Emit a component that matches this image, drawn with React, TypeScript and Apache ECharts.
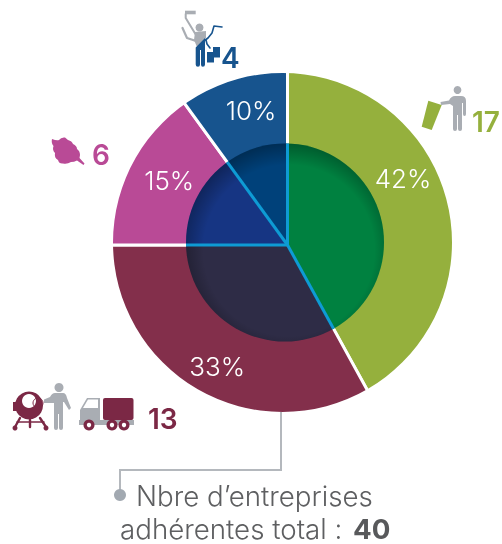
import React, { useEffect, useRef } from "react";
import * as echarts from "echarts";

const categories = ["Collecte", "BTP / Transport", "Espaces verts", "Second oeuvre"];
const counts = [17, 13, 6, 4];
const percents = [42, 33, 15, 10];
const outerColors = ["#95B03D", "#832F4B", "#B94A96", "#17548E"];
const innerColors = ["#008140", "#2E2C46", "#163583", "#00417A"];
const totalLine1 = "Nbre d’entreprises";
const totalLine2 = "adhérentes total : ";
const totalValue = "40";

const FONT = "Inter, 'Noto Sans', sans-serif";
const PX = 287.5, PY = 245; // point where the slices meet
const CX = 282.5, CY = 242.5, R = 169.5; // outer circle
const ICX = 285, ICY = 242.5, IR = 99; // inner circle
const GREY = "#A9ADB3";
const WINE = "#7B2845";

const shapes: Record<string, string> = {
  personBin: "M440.5 102 L449 100.5 Q451 96 455 96 L461 96 Q466 96 466 101 L466 114 Q466 116 464.5 116 Q463 116 463 114 L463 103 L462 103 L462 129 Q462 131 460 131 Q458 131 458 129 L458 115 L457 115 L457 129 Q457 131 455 131 Q453 131 453 129 L453 106 L450 104 L441 105 Z",
  leaf: "M52 139 Q57 141 59 140 Q61 137 65 137.5 L68 140 Q72 141 73 144 Q77 146 77 149 Q80 151 80 155 L79.5 158 L84.5 163.5 L83.5 165 L77 160.5 Q74 162 71 162 Q67 164.5 63 163.5 Q59 164 58 160 Q54 158 55 153 Q52 150 53.5 146 Q51 143 52 139 Z",
  painterTorso: "M195 32 L206 31 L206 38 L197 47 L194 40 Z",
  painterLegs: "M195.7 47.5 L205 38 L205 64.5 Q205 66.7 202.8 66.7 Q201 66.7 201 64.5 L201 50 L200 50 L200 64.5 Q200 66.7 198 66.7 Q195.7 66.7 195.7 64.5 Z",
  personMixer: "M44 399.5 L50 397 Q52 393 55 393 L63 393 Q66 393 67 398 L71 408 L69 410 L64 402 L63 402 L63 428 Q63 430 61 430 Q59 430 59 428 L59 414 L58 414 L58 428 Q58 430 56 430 Q54 430 54 428 L54 403 L44 403 Z",
  cab: "M80 420 L80 410 L87 398 L100 398 L100 420 Z",
  chassis: "M79 420 L134 420 L134 425 L79 425 Z",
};
Object.entries(shapes).forEach(([k, d]) =>
  echarts.graphic.registerShape(k, echarts.graphic.extendPath(d, {}) as any)
);

export default function App() {
  const ref = useRef<HTMLDivElement>(null);
  useEffect(() => {
    const chart = echarts.init(ref.current!, undefined, { renderer: "svg" });
    const total = percents.reduce((a, b) => a + b, 0);
    let acc = 0;
    const rows = percents.map((v) => {
      const r = [v, acc];
      acc += v;
      return r;
    });
    const num = (text: string, x: number, y: number, fill: string) => ({
      type: "text", z: 20, x, y,
      style: { text, fill, font: `600 28px ${FONT}`, textVerticalAlign: "middle" },
    });
    const deco = (type: string, fill: string) => ({ type, z: 20, x: 0, y: 0, style: { fill } });
    const circ = (cx: number, cy: number, r: number, fill: string) => ({ type: "circle", z: 21, shape: { cx, cy, r }, style: { fill } });
    const stroke = (points: number[][], color: string, w: number) => ({
      type: "polyline", z: 20, shape: { points },
      style: { stroke: color, lineWidth: w, fill: "none", lineCap: "round", lineJoin: "round" },
    });
    const box = (x: number, y: number, width: number, height: number, fill: string) => ({
      type: "rect", z: 21, shape: { x, y, width, height }, style: { fill },
    });
    chart.setOption({
      animation: false,
      series: [
        {
          type: "pie",
          z: 1,
          center: [PX, PY],
          radius: [92, 190],
          startAngle: 90,
          clockwise: true,
          silent: true,
          data: categories.map((name, i) => ({ name, value: percents[i], itemStyle: { color: outerColors[i] } })),
          itemStyle: { borderColor: "#fff", borderWidth: 3 },
          label: {
            show: true,
            position: "inside",
            color: "#fff",
            fontFamily: FONT,
            fontWeight: 300,
            fontSize: 26,
            formatter: "{c}%",
          },
          labelLine: { show: false },
          labelLayout: (p: any) => [{ dx: -24, dy: -31 }, { dx: 3, dy: -2 }, { dx: 10, dy: 1 }, { dx: 8, dy: 2 }][p.dataIndex],
        },
        {
          type: "custom",
          z: 5,
          coordinateSystem: "none",
          silent: true,
          data: rows,
          renderItem: (params: any, api: any) => {
            const a0 = (api.value(1) / total) * Math.PI * 2;
            const a1 = ((api.value(1) + api.value(0)) / total) * Math.PI * 2;
            const clip = { type: "circle", shape: { cx: ICX, cy: ICY, r: IR } };
            return {
              type: "sector",
              shape: { cx: PX, cy: PY, r0: 0, r: 115, startAngle: a0 - Math.PI / 2, endAngle: a1 - Math.PI / 2, clockwise: true },
              style: { fill: innerColors[params.dataIndex] },
              clipPath: clip,
            };
          },
        },
      ],
      graphic: [
        { type: "ring", z: 3, shape: { cx: CX, cy: CY, r0: R, r: 205 }, style: { fill: "#fff" } },
        {
          type: "circle", z: 10, shape: { cx: ICX, cy: ICY, r: IR },
          style: {
            fill: {
              type: "radial", x: 0.52, y: 0.54, r: 0.54,
              colorStops: [
                { offset: 0, color: "rgba(0,0,0,0)" },
                { offset: 0.8, color: "rgba(0,0,0,0)" },
                { offset: 1, color: "rgba(0,0,0,0.3)" },
              ],
            },
          },
        },
        ...rows.map((r) => {
          const a = (r[1] / total) * Math.PI * 2;
          const dx = Math.sin(a), dy = -Math.cos(a);
          const fx = PX - ICX, fy = PY - ICY;
          const b = fx * dx + fy * dy;
          const t = -b + Math.sqrt(b * b - (fx * fx + fy * fy - IR * IR));
          return {
            type: "line", z: 12,
            shape: { x1: PX, y1: PY, x2: PX + dx * t, y2: PY + dy * t },
            style: { stroke: "#0E9BD4", lineWidth: 3 },
          };
        }),
        num(String(counts[0]), 472, 122, outerColors[0]),
        num(String(counts[1]), 148, 419, WINE),
        num(String(counts[2]), 92, 155, outerColors[2]),
        num(String(counts[3]), 221, 58, outerColors[3]),
        // green bin and person
        { type: "polygon", z: 20, shape: { points: [[428.3, 100.7], [441.7, 105], [431.7, 130], [421.7, 126.7]] }, style: { fill: outerColors[0] } },
        circ(457.5, 90, 3.9, GREY),
        deco("personBin", GREY),
        // leaf
        deco("leaf", outerColors[2]),
        // painter
        circ(199.5, 27.5, 4, GREY),
        box(185, 10.7, 10.7, 3.6, GREY),
        stroke([[185.7, 14], [185.7, 18], [196, 35]], GREY, 2),
        stroke([[182.5, 28], [187, 38], [196, 41]], GREY, 2.2),
        deco("painterTorso", GREY),
        deco("painterLegs", outerColors[3]),
        stroke([[204, 41], [208, 38], [212, 33], [214, 26], [222, 27]], outerColors[3], 1.6),
        stroke([[206, 40], [207, 44], [210, 48]], outerColors[3], 1.6),
        box(207, 52, 7, 10.5, outerColors[3]),
        box(213, 47, 7, 10.5, outerColors[3]),
        // mixer
        stroke([[20, 418], [15, 427]], WINE, 2.4),
        stroke([[40, 418], [46, 427]], WINE, 2.4),
        stroke([[30, 420], [30, 427]], WINE, 2.4),
        stroke([[17, 422], [44, 422]], WINE, 1.5),
        circ(15, 428, 2.5, WINE),
        circ(46, 428, 2.5, WINE),
        circ(29, 405.5, 14, WINE),
        circ(29, 401, 7, "#fff"),
        box(13, 402, 5, 9, WINE),
        { type: "circle", z: 21, shape: { cx: 38, cy: 403, r: 5 }, style: { fill: "none", stroke: WINE, lineWidth: 1 } },
        circ(59, 387.5, 4.5, GREY),
        deco("personMixer", GREY),
        // truck
        deco("cab", GREY),
        { type: "polygon", z: 21, shape: { points: [[83, 408], [88, 399.5], [98, 399.5], [98, 408]] }, style: { fill: "#fff" } },
        { type: "rect", z: 21, shape: { x: 103, y: 398, width: 30.5, height: 22, r: 2 }, style: { fill: WINE } },
        deco("chassis", GREY),
        circ(89, 425, 5.5, WINE), circ(89, 425, 2.2, "#fff"),
        circ(112, 425, 5.5, WINE), circ(112, 425, 2.2, "#fff"),
        circ(124, 425, 5.5, WINE), circ(124, 425, 2.2, "#fff"),
        // total
        { type: "polyline", z: 20, shape: { points: [[281, 412], [281, 470], [120, 470], [120, 495]] }, style: { stroke: "#B4B8BD", lineWidth: 2, fill: "none" } },
        { type: "circle", z: 21, shape: { cx: 120, cy: 495, r: 6 }, style: { fill: "#A2A9B1" } },
        { type: "text", z: 20, x: 136, y: 496, style: { text: totalLine1, fill: "#5E5F61", font: `300 27.7px ${FONT}`, textVerticalAlign: "middle" } },
        { type: "text", z: 20, x: 120, y: 529, style: { text: totalLine2, fill: "#5E5F61", font: `300 27.7px ${FONT}`, textVerticalAlign: "middle" } },
        { type: "text", z: 20, x: 353, y: 529, style: { text: totalValue, fill: "#58595B", font: `700 27.7px ${FONT}`, textVerticalAlign: "middle" } },
      ],
    });
    return () => chart.dispose();
  }, []);
  return <div ref={ref} style={{ position: "fixed", left: 0, top: 0, width: 502, height: 544 }} />;
}
